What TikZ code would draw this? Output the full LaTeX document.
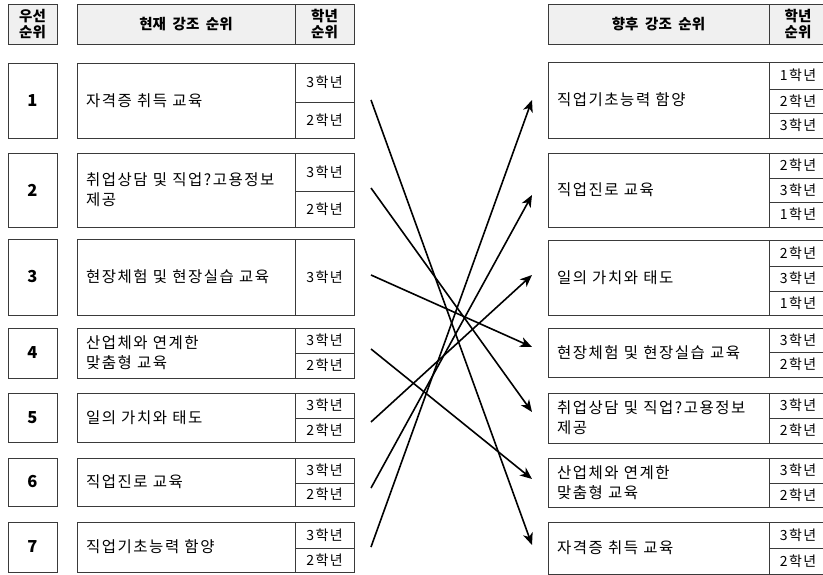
\documentclass[tikz,border=0pt]{standalone}
\usepackage{fontspec}
\setmainfont{Noto Sans CJK KR}[WordSpace=3.6,LetterSpace=10]
\newfontfamily\headfont{Noto Sans CJK KR}[WordSpace=2]
\usetikzlibrary{arrows.meta,positioning}
\definecolor{Head}{HTML}{F0F0F0}
\definecolor{Rule}{HTML}{3A3A3A}
\tikzset{
  arr/.style={-{Stealth[length=12pt,width=10pt,inset=3.5pt]},line width=1.6pt},
  frame/.style={draw=Rule,line width=0.9pt,inner sep=0pt,outer sep=0pt},
  headbox/.style={frame,fill=Head,font=\headfont\bfseries\fontsize{14.5}{16}\selectfont,align=center,anchor=north west},
  rankbox/.style={frame,minimum width=49pt,font=\headfont\bfseries\fontsize{16.5}{18}\selectfont,anchor=north west},
  itembox/.style={frame,inner xsep=9pt,align=left,font=\fontsize{15.5}{20}\selectfont,anchor=north west},
  gradebox/.style={frame,minimum width=59pt,font=\fontsize{14}{15}\selectfont,anchor=north west}
}
\begin{document}
\begin{tikzpicture}[x=1pt,y=-1pt]
  \useasboundingbox (0,0) rectangle (823,575);
  % headers
  \node[headbox,minimum width=49pt,minimum height=40pt] (hrank) at (8,4) {우선\\순위};
  \node[headbox,minimum width=218pt,minimum height=40pt] (hnow) at (77,4) {현재 강조 순위};
  \node[headbox,minimum width=59pt,minimum height=40pt] (hgrade) at (295,4) {학년\\순위};
  \node[headbox,minimum width=221pt,minimum height=40pt] (hnext) at (548,4) {향후 강조 순위};
  \node[headbox,minimum width=58pt,minimum height=40pt] (hgrade2) at (769,4) {학년\\순위};
  % current ranking
  \node[rankbox,minimum height=75pt] (r1) at (8,63) {1};
  \node[itembox,text width=200pt,minimum height=75pt] (c1) at (77,63) {자격증 취득 교육};
  \node[gradebox,minimum height=39pt] (c1a) at (295,63) {3학년};
  \node[gradebox,minimum height=36pt,below=0pt of c1a] (c1b) {2학년};
  \node[rankbox,minimum height=74pt] (r2) at (8,153) {2};
  \node[itembox,text width=200pt,minimum height=74pt] (c2) at (77,153) {취업상담 및 직업?고용정보\\제공};
  \node[gradebox,minimum height=38pt] (c2a) at (295,153) {3학년};
  \node[gradebox,minimum height=36pt,below=0pt of c2a] (c2b) {2학년};
  \node[rankbox,minimum height=76pt] (r3) at (8,239) {3};
  \node[itembox,text width=200pt,minimum height=76pt] (c3) at (77,239) {현장체험 및 현장실습 교육};
  \node[gradebox,minimum height=76pt] (c3a) at (295,239) {3학년};
  \node[rankbox,minimum height=50pt] (r4) at (8,328) {4};
  \node[itembox,text width=200pt,minimum height=50pt] (c4) at (77,328) {산업체와 연계한\\맞춤형 교육};
  \node[gradebox,minimum height=25pt] (c4a) at (295,328) {3학년};
  \node[gradebox,minimum height=25pt,below=0pt of c4a] (c4b) {2학년};
  \node[rankbox,minimum height=49pt] (r5) at (8,393) {5};
  \node[itembox,text width=200pt,minimum height=49pt] (c5) at (77,393) {일의 가치와 태도};
  \node[gradebox,minimum height=25pt] (c5a) at (295,393) {3학년};
  \node[gradebox,minimum height=24pt,below=0pt of c5a] (c5b) {2학년};
  \node[rankbox,minimum height=48pt] (r6) at (8,458) {6};
  \node[itembox,text width=200pt,minimum height=48pt] (c6) at (77,458) {직업진로 교육};
  \node[gradebox,minimum height=25pt] (c6a) at (295,458) {3학년};
  \node[gradebox,minimum height=23pt,below=0pt of c6a] (c6b) {2학년};
  \node[rankbox,minimum height=50pt] (r7) at (8,522) {7};
  \node[itembox,text width=200pt,minimum height=50pt] (c7) at (77,522) {직업기초능력 함양};
  \node[gradebox,minimum height=26pt] (c7a) at (295,522) {3학년};
  \node[gradebox,minimum height=24pt,below=0pt of c7a] (c7b) {2학년};
  % future ranking
  \node[itembox,text width=203pt,minimum height=76pt] (f1) at (548,62) {직업기초능력 함양};
  \node[gradebox,minimum width=58pt,minimum height=27pt] (f1a) at (769,62) {1학년};
  \node[gradebox,minimum width=58pt,minimum height=24pt,below=0pt of f1a] (f1b) {2학년};
  \node[gradebox,minimum width=58pt,minimum height=25pt,below=0pt of f1b] (f1c) {3학년};
  \node[itembox,text width=203pt,minimum height=74pt] (f2) at (548,153) {직업진로 교육};
  \node[gradebox,minimum width=58pt,minimum height=25pt] (f2a) at (769,153) {2학년};
  \node[gradebox,minimum width=58pt,minimum height=24pt,below=0pt of f2a] (f2b) {3학년};
  \node[gradebox,minimum width=58pt,minimum height=25pt,below=0pt of f2b] (f2c) {1학년};
  \node[itembox,text width=203pt,minimum height=75pt] (f3) at (548,240) {일의 가치와 태도};
  \node[gradebox,minimum width=58pt,minimum height=26pt] (f3a) at (769,240) {2학년};
  \node[gradebox,minimum width=58pt,minimum height=25pt,below=0pt of f3a] (f3b) {3학년};
  \node[gradebox,minimum width=58pt,minimum height=24pt,below=0pt of f3b] (f3c) {1학년};
  \node[itembox,text width=203pt,minimum height=49pt] (f4) at (548,328) {현장체험 및 현장실습 교육};
  \node[gradebox,minimum width=58pt,minimum height=24pt] (f4a) at (769,328) {3학년};
  \node[gradebox,minimum width=58pt,minimum height=25pt,below=0pt of f4a] (f4b) {2학년};
  \node[itembox,text width=203pt,minimum height=50pt] (f5) at (548,393) {취업상담 및 직업?고용정보\\제공};
  \node[gradebox,minimum width=58pt,minimum height=25pt] (f5a) at (769,393) {3학년};
  \node[gradebox,minimum width=58pt,minimum height=25pt,below=0pt of f5a] (f5b) {2학년};
  \node[itembox,text width=203pt,minimum height=49pt] (f6) at (548,458) {산업체와 연계한\\맞춤형 교육};
  \node[gradebox,minimum width=58pt,minimum height=25pt] (f6a) at (769,458) {3학년};
  \node[gradebox,minimum width=58pt,minimum height=24pt,below=0pt of f6a] (f6b) {2학년};
  \node[itembox,text width=203pt,minimum height=52pt] (f7) at (548,522) {자격증 취득 교육};
  \node[gradebox,minimum width=58pt,minimum height=26pt] (f7a) at (769,522) {3학년};
  \node[gradebox,minimum width=58pt,minimum height=26pt,below=0pt of f7a] (f7b) {2학년};
  % arrow ends
  \coordinate (s1) at (371,100); \coordinate (s2) at (371,188); \coordinate (s3) at (371,275);
  \coordinate (s4) at (371,349); \coordinate (s5) at (371,422); \coordinate (s6) at (371,488);
  \coordinate (s7) at (371,547);
  \coordinate (e1) at (532,100); \coordinate (e2) at (532,195); \coordinate (e3) at (532,275);
  \coordinate (e4) at (532,347); \coordinate (e5) at (532,412); \coordinate (e6) at (532,479);
  \coordinate (e7) at (532,545);
  \draw[arr] (s1)--(e7);\draw[arr] (s2)--(e5);\draw[arr] (s3)--(e4);\draw[arr] (s4)--(e6);
  \draw[arr] (s5)--(e3);\draw[arr] (s6)--(e2);\draw[arr] (s7)--(e1);
\end{tikzpicture}
\end{document}
